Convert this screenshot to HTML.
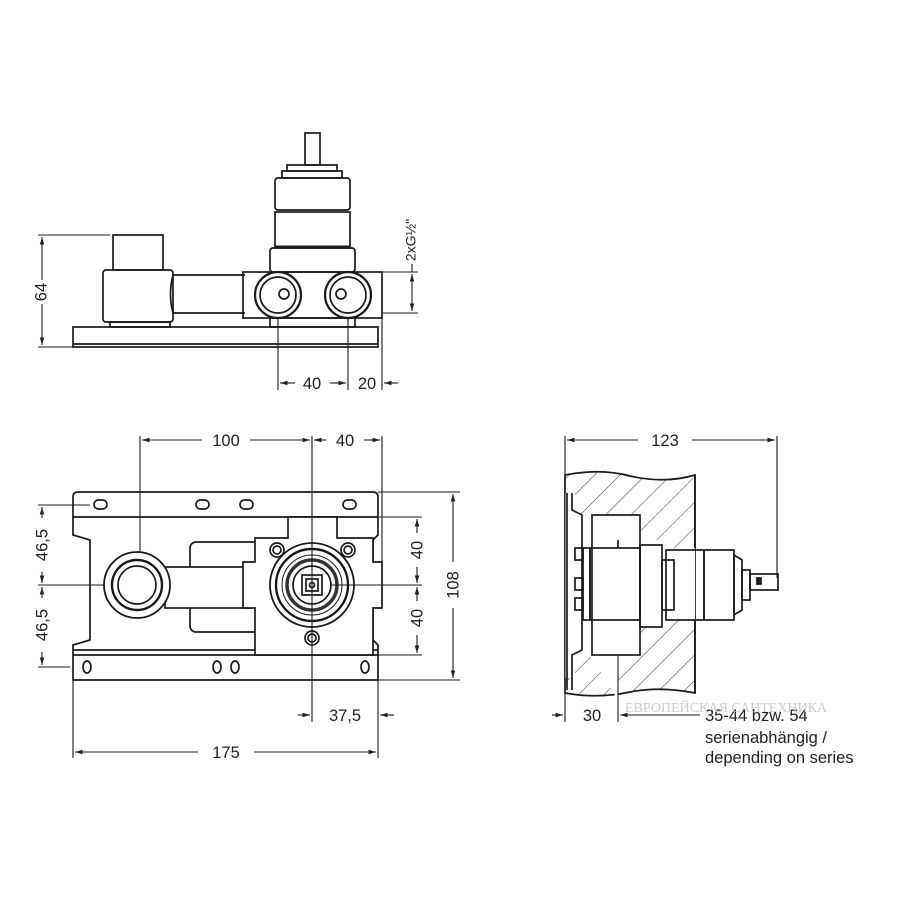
<!DOCTYPE html>
<html><head><meta charset="utf-8"><style>
html,body{margin:0;padding:0;background:#fff}
svg{display:block}
text{font-family:"Liberation Sans",sans-serif;fill:#222}
</style></head><body>
<svg width="900" height="900" viewBox="0 0 900 900" xmlns="http://www.w3.org/2000/svg">
<defs>
<marker id="a" viewBox="0 0 10 10" refX="10" refY="5" markerWidth="7" markerHeight="7" orient="auto-start-reverse"><path d="M0,2 L10,5 L0,8 z" fill="#222"/></marker>
<pattern id="h" width="18" height="18" patternUnits="userSpaceOnUse" patternTransform="rotate(45)"><line x1="0" y1="0" x2="0" y2="18" stroke="#444" stroke-width="1.1"/></pattern>
</defs>
<g fill="none" stroke="#1a1a1a" stroke-width="1.7">
<!-- TOP VIEW -->
<rect x="305" y="133" width="15" height="32"/>
<rect x="287" y="165" width="50" height="6"/>
<rect x="282" y="171" width="60" height="7"/>
<rect x="275" y="178" width="75" height="32" rx="3"/>
<rect x="275" y="212" width="75" height="36"/>
<line x1="275" y1="247" x2="350" y2="247" stroke-width="3"/>
<rect x="270" y="248" width="85" height="24" rx="3"/>
<rect x="113" y="235" width="50" height="35"/>
<rect x="103" y="270" width="70" height="52" rx="3"/>
<path d="M173,275 L245,275 M173,313 L245,313 M173,275 Q168,294 173,313"/>
<rect x="243" y="272" width="139" height="46"/>
<circle cx="278" cy="295" r="23" stroke-width="2.2"/><circle cx="278" cy="295" r="18"/><circle cx="284" cy="294" r="5"/>
<circle cx="348" cy="295" r="23" stroke-width="2.2"/><circle cx="348" cy="295" r="18"/><circle cx="341" cy="294" r="5"/>
<rect x="110" y="322" width="60" height="5"/><rect x="270" y="318" width="85" height="9"/>
<rect x="73" y="327" width="305" height="20"/>
<line x1="73" y1="344" x2="378" y2="344"/>
<g stroke-width="1.1">
<line x1="38" y1="235" x2="110" y2="235"/><line x1="38" y1="347" x2="73" y2="347"/>
<line x1="42" y1="237" x2="42" y2="280" marker-start="url(#a)"/><line x1="42" y1="304" x2="42" y2="345" marker-end="url(#a)"/>
<line x1="278" y1="318" x2="278" y2="390"/><line x1="348" y1="318" x2="348" y2="390"/><line x1="382" y1="318" x2="382" y2="390"/>
<line x1="280" y1="383" x2="295" y2="383" marker-start="url(#a)"/><line x1="330" y1="383" x2="346" y2="383" marker-end="url(#a)"/>
<line x1="384" y1="383" x2="398" y2="383" marker-start="url(#a)"/>
<line x1="382" y1="272" x2="418" y2="272"/><line x1="382" y1="313" x2="418" y2="313"/>
<line x1="412" y1="274" x2="412" y2="311" marker-start="url(#a)" marker-end="url(#a)"/><line x1="412" y1="264" x2="412" y2="272"/>
</g>
<!-- FRONT VIEW -->
<path d="M78,492 L373,492 Q378,492 378,497 L378,535 L373,540 L373,640 L378,645 L378,680 L73,680 L73,645 L90,640 L90,540 L73,535 L73,497 Q73,492 78,492 Z"/>
<line x1="73" y1="517" x2="378" y2="517"/><line x1="73" y1="650" x2="378" y2="650"/><line x1="73" y1="655" x2="378" y2="655"/>
<rect x="94" y="500" width="13" height="9" rx="4.5"/><rect x="196" y="500" width="13" height="9" rx="4.5"/><rect x="240" y="500" width="13" height="9" rx="4.5"/><rect x="343" y="500" width="13" height="9" rx="4.5"/>
<ellipse cx="87" cy="667" rx="4" ry="6"/><ellipse cx="217" cy="667" rx="4" ry="6"/><ellipse cx="235" cy="667" rx="4" ry="6"/><ellipse cx="365" cy="667" rx="4" ry="6"/>
<rect x="190" y="542" width="73" height="90" rx="6"/>
<rect x="165" y="567" width="85" height="41" fill="#fff"/>
<circle cx="137" cy="585" r="33" fill="#fff" stroke-width="1.8"/><circle cx="137" cy="585" r="25" stroke-width="2.4"/><circle cx="137" cy="585" r="19"/>
<path d="M288,517 L337,517 L337,538 L373,538 L373,562 L382,562 L382,608 L373,608 L373,655 L255,655 L255,608 L243,608 L243,562 L255,562 L255,538 L288,538 Z" fill="#fff"/>
<circle cx="277" cy="550" r="7"/><circle cx="277" cy="550" r="4"/><circle cx="348" cy="550" r="7"/><circle cx="348" cy="550" r="4"/>
<circle cx="312" cy="638" r="7"/><circle cx="312" cy="638" r="4"/>
<circle cx="312" cy="585" r="42" fill="#fff" stroke-width="1.8"/><circle cx="312" cy="585" r="36" stroke-width="2.4"/><circle cx="312" cy="585" r="30" stroke-width="1"/><circle cx="312" cy="585" r="25" stroke-width="3.5" stroke="#333"/><circle cx="312" cy="585" r="19"/>
<rect x="302" y="575" width="20" height="20"/><rect x="306" y="579" width="12" height="12"/><circle cx="312" cy="585" r="2.5"/>
<g stroke-width="1.1">
<line x1="140" y1="436" x2="140" y2="552"/><line x1="312" y1="436" x2="312" y2="722"/><line x1="382" y1="436" x2="382" y2="562"/>
<line x1="142" y1="440" x2="202" y2="440" marker-start="url(#a)"/><line x1="250" y1="440" x2="310" y2="440" marker-end="url(#a)"/>
<line x1="314" y1="440" x2="326" y2="440" marker-start="url(#a)"/><line x1="364" y1="440" x2="380" y2="440" marker-end="url(#a)"/>
<line x1="378" y1="492" x2="460" y2="492"/><line x1="378" y1="680" x2="460" y2="680"/>
<line x1="453" y1="494" x2="453" y2="562" marker-start="url(#a)"/><line x1="453" y1="608" x2="453" y2="678" marker-end="url(#a)"/>
<line x1="337" y1="517" x2="422" y2="517"/><line x1="330" y1="585" x2="422" y2="585"/><line x1="373" y1="655" x2="422" y2="655"/>
<line x1="417" y1="519" x2="417" y2="533" marker-start="url(#a)"/><line x1="417" y1="567" x2="417" y2="583" marker-end="url(#a)"/>
<line x1="417" y1="587" x2="417" y2="601" marker-start="url(#a)"/><line x1="417" y1="635" x2="417" y2="653" marker-end="url(#a)"/>
<line x1="38" y1="505" x2="90" y2="505"/><line x1="38" y1="585" x2="104" y2="585"/><line x1="38" y1="667" x2="70" y2="667"/>
<line x1="42" y1="507" x2="42" y2="518" marker-start="url(#a)"/><line x1="42" y1="572" x2="42" y2="583" marker-end="url(#a)"/>
<line x1="42" y1="587" x2="42" y2="598" marker-start="url(#a)"/><line x1="42" y1="652" x2="42" y2="665" marker-end="url(#a)"/>
<line x1="73" y1="680" x2="73" y2="758"/><line x1="378" y1="680" x2="378" y2="758"/>
<line x1="75" y1="752" x2="198" y2="752" marker-start="url(#a)"/><line x1="254" y1="752" x2="376" y2="752" marker-end="url(#a)"/>
<line x1="298" y1="715" x2="310" y2="715" marker-end="url(#a)"/><line x1="394" y1="715" x2="380" y2="715" marker-end="url(#a)"/>
</g>
<!-- SIDE VIEW -->
<path d="M565,475 Q600,468 630,476 Q665,484 695,475 L695,693 Q660,686 630,692 Q598,699 565,693 Z" fill="url(#h)"/>
<path d="M565,493 L575,493 L575,515 L590,515 L640,515 L640,540 L662,540 L662,548 L695,548 L695,620 L662,620 L662,627 L640,627 L640,655 L618,655 L618,700 L590,655 L575,655 L575,678 L565,678 Z" fill="#fff" stroke="none"/>
<path d="M567,493 L567,690 M572,493 L572,510 L582,515 L582,650 L572,655 L572,690"/>
<rect x="575" y="548" width="8" height="12"/><rect x="575" y="578" width="8" height="12"/><rect x="575" y="598" width="8" height="12"/>
<rect x="583" y="548" width="7" height="72"/>
<rect x="592" y="515" width="48" height="140"/>
<rect x="590" y="548" width="50" height="72"/>
<rect x="640" y="545" width="22" height="82"/>
<rect x="662" y="560" width="12" height="50"/>
<rect x="666" y="550" width="38" height="70"/>
<rect x="704" y="550" width="30" height="70"/>
<path d="M734,555 L742,560 L742,610 L734,615 Z"/>
<rect x="742" y="570" width="8" height="30"/>
<rect x="750" y="574" width="28" height="16"/>
<rect x="757" y="578" width="4" height="6" fill="#222"/>
<line x1="618" y1="540" x2="618" y2="548"/>
<line x1="695" y1="475" x2="695" y2="548"/><line x1="695" y1="620" x2="695" y2="693"/>
<g stroke-width="1.1">
<line x1="565" y1="436" x2="565" y2="722"/><line x1="777" y1="436" x2="777" y2="578"/>
<line x1="567" y1="440" x2="638" y2="440" marker-start="url(#a)"/><line x1="692" y1="440" x2="775" y2="440" marker-end="url(#a)"/>
<line x1="618" y1="655" x2="618" y2="722"/>
<line x1="552" y1="715" x2="563" y2="715" marker-end="url(#a)"/>
<line x1="620" y1="715" x2="700" y2="715" marker-start="url(#a)"/>
</g>
</g>
<g font-size="16.5">
<text x="42" y="292" transform="rotate(-90 42 292)" text-anchor="middle" dominant-baseline="middle">64</text>
<text x="312" y="389" text-anchor="middle">40</text>
<text x="367" y="389" text-anchor="middle">20</text>
<text x="412" y="240" transform="rotate(-90 412 240)" text-anchor="middle" dominant-baseline="middle" font-size="14">2xG½"</text>
<text x="226" y="446" text-anchor="middle">100</text>
<text x="345" y="446" text-anchor="middle">40</text>
<text x="43" y="545" transform="rotate(-90 43 545)" text-anchor="middle" dominant-baseline="middle">46,5</text>
<text x="43" y="625" transform="rotate(-90 43 625)" text-anchor="middle" dominant-baseline="middle">46,5</text>
<text x="418" y="550" transform="rotate(-90 418 550)" text-anchor="middle" dominant-baseline="middle">40</text>
<text x="418" y="618" transform="rotate(-90 418 618)" text-anchor="middle" dominant-baseline="middle">40</text>
<text x="454" y="585" transform="rotate(-90 454 585)" text-anchor="middle" dominant-baseline="middle">108</text>
<text x="345" y="721" text-anchor="middle">37,5</text>
<text x="226" y="758" text-anchor="middle">175</text>
<text x="665" y="446" text-anchor="middle">123</text>
<text x="592" y="721" text-anchor="middle">30</text>
<text x="705" y="721">35-44 bzw. 54</text>
<text x="705" y="743">serienabhängig /</text>
<text x="705" y="763">depending on series</text>
</g>
<text x="625" y="712" font-size="14" style="fill:#ccc;font-family:'Liberation Serif',serif">ЕВРОПЕЙСКАЯ САНТЕХНИКА</text>
</svg>
</body></html>
